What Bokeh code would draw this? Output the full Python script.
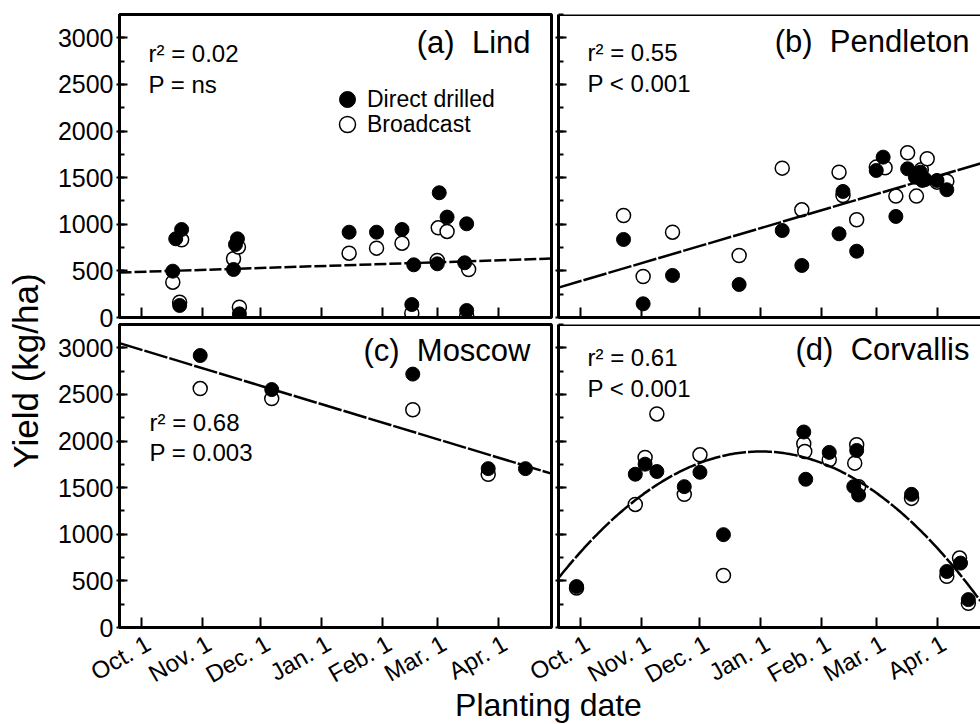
import math
import numpy as np
from bokeh.plotting import figure
from bokeh.models import (Range1d, FixedTicker, SingleIntervalTicker, Label,
                          Legend, LegendItem, Span, LinearAxis)
from bokeh.layouts import row, column
from bokeh.embed import file_html
from bokeh.resources import INLINE

FONT = "Liberation Sans"

# ---------------- axis definitions ----------------
month_days = [0, 31, 61, 92, 123, 151, 182]          # days after Oct. 1
month_names = ["Oct. 1", "Nov. 1", "Dec. 1", "Jan. 1", "Feb. 1", "Mar. 1", "Apr. 1"]

# ---------------- data: planting day (days after Oct. 1), yield (kg/ha) ----------------
lind_dd_day = [16, 17.5, 20.5, 19.5, 47, 48, 49, 50, 106, 120, 133, 139, 138, 152, 156, 151, 166, 165, 166]
lind_dd_yield = [497, 844, 944, 129, 515, 783, 844, 39, 915, 915, 944, 565, 139, 1338, 1077, 576, 1005, 587, 75]
lind_bc_day = [20.5, 16, 19.5, 47, 49.5, 50, 106, 120, 133, 138, 151.5, 156, 151, 167, 166]
lind_bc_yield = [833, 379, 164, 630, 755, 111, 690, 744, 797, 46, 962, 923, 612, 515, 15]

pend_dd_day = [22, 32, 47, 81, 103, 113, 132, 134, 141, 151, 154.5, 161, 167, 171, 173.5, 174.5, 176, 182, 187]
pend_dd_yield = [837, 147, 451, 354, 933, 558, 898, 1352, 711, 1577, 1720, 1084, 1595, 1505, 1559, 1470, 1480, 1470, 1370]
pend_bc_day = [22, 32, 47, 81, 103, 113, 132, 134, 141, 151, 155.5, 161, 167, 171.5, 174, 177, 182, 187]
pend_bc_yield = [1094, 440, 915, 665, 1602, 1155, 1559, 1309, 1048, 1613, 1606, 1302, 1767, 1302, 1585, 1703, 1452, 1462]

mosc_dd_day = [30, 66.5, 138.5, 177, 196]
mosc_dd_yield = [2917, 2552, 2718, 1704, 1704]
mosc_bc_day = [30, 66.5, 138.5, 177]
mosc_bc_yield = [2563, 2455, 2336, 1643]

corv_dd_day = [-2, 28, 33, 39, 53, 61, 73, 114, 115, 127, 141, 139.5, 142, 169, 187, 194, 198]
corv_dd_yield = [439, 1644, 1752, 1673, 1511, 1665, 996, 2097, 1590, 1878, 1899, 1511, 1421, 1428, 601, 691, 299]
corv_bc_day = [-2, 28, 33, 39, 53, 61, 73, 114, 114.5, 127, 141, 140, 142, 169, 187, 193.5, 198]
corv_bc_yield = [424, 1320, 1824, 2291, 1428, 1852, 558, 1971, 1888, 1798, 1960, 1763, 1511, 1385, 550, 745, 259]

# fitted regressions (intercept, slope) and quadratic (peak yield, peak day, curvature)
lind_fit = [489.6, 0.679]
pend_fit = [390.0, 6.18]
mosc_fit = [2979.0, -6.35]
corv_fit = [1888.0, 92.0, -0.1275]

site_titles = ["(a)\u00a0 Lind", "(b)\u00a0 Pendleton", "(c)\u00a0 Moscow", "(d)\u00a0 Corvallis"]
site_r2 = ["r\u00b2 = 0.02", "r\u00b2 = 0.55", "r\u00b2 = 0.68", "r\u00b2 = 0.61"]
site_p = ["P = ns", "P < 0.001", "P = 0.003", "P < 0.001"]

# ---------------- layout constants ----------------
X0 = -11.2
X_END_LEFT = 209.3
X_END_RIGHT = 204.2
Y_END = 3250
FRAME_W = 432
FRAME_W_R = 422
FRAME_H = 303
PXU = FRAME_H / Y_END          # pixels per kg/ha
PXD = FRAME_W / (X_END_LEFT - X0)   # pixels per day
YLAB_W = 50
LEFT_B = 69
TOP_B = 14
MID_B = 13          # room below the top panels for their "0" tick label
ROW_OVERLAP = 10    # the bottom row is pulled up over that room
MID_T = 4
BOT_B = 80
OVERHANG = 40
LABEL_SHIFT = 3.5   # tick-label anchor offset (days) to the right of each tick
MID = 0.347         # distance (in em) from the text middle to its baseline

TITLE_FS = 31
NOTE_FS = 24


def make_panel(x_end, width, height, b_left, b_right, b_top, b_bottom,
               ylabels, xlabels, outline):
    p = figure(width=width, height=height,
               x_range=Range1d(X0, x_end), y_range=Range1d(0, Y_END),
               output_backend="svg", toolbar_location=None,
               min_border_left=b_left, min_border_right=b_right,
               min_border_top=b_top, min_border_bottom=b_bottom)
    p.grid.visible = False
    p.background_fill_color = "white"
    p.border_fill_color = None
    if outline:
        p.outline_line_color = "black"
        p.outline_line_width = 3
    else:
        p.outline_line_color = None
        p.add_layout(Span(location=Y_END, dimension="width",
                          line_color="black", line_width=3))

    xa = p.xaxis[0]
    xa.ticker = FixedTicker(ticks=month_days)
    xa.axis_line_width = 3
    xa.axis_line_color = "black"
    xa.major_tick_in = 10
    xa.major_tick_out = 0
    xa.minor_tick_in = 0
    xa.minor_tick_out = 0
    xa.major_tick_line_width = 2
    xa.major_label_text_font_size = "0px"
    xa.major_label_text_color = None
    xa.major_label_standoff = 0

    if xlabels:
        shifted = [d + LABEL_SHIFT for d in month_days]
        lab_axis = LinearAxis(ticker=FixedTicker(ticks=shifted),
                              major_label_overrides=dict(zip(shifted, month_names)),
                              axis_line_color=None, major_tick_line_color=None,
                              minor_tick_line_color=None,
                              major_tick_in=0, major_tick_out=0,
                              minor_tick_in=0, minor_tick_out=0,
                              major_label_text_font=FONT,
                              major_label_text_font_size="24px",
                              major_label_text_color="black",
                              major_label_orientation=math.radians(30),
                              major_label_standoff=14)
        p.add_layout(lab_axis, "below")

    ya = p.yaxis[0]
    ya.ticker = SingleIntervalTicker(interval=500, num_minor_ticks=2)
    ya.axis_line_width = 3
    ya.axis_line_color = "black"
    ya.major_tick_in = 8
    ya.major_tick_out = 3
    ya.minor_tick_in = 5
    ya.minor_tick_out = 0
    ya.major_tick_line_width = 2
    ya.minor_tick_line_width = 2
    ya.major_label_text_font = FONT
    if ylabels:
        ya.major_label_text_font_size = "25px"
        ya.major_label_text_color = "black"
        ya.major_label_standoff = 3
    else:
        ya.major_label_text_font_size = "0px"
        ya.major_label_text_color = None
        ya.major_label_standoff = 0
    return p


def add_points(p, dd_x, dd_y, bc_x, bc_y):
    bc = p.scatter(bc_x, bc_y, marker="circle", size=14, fill_color="white",
                   line_color="black", line_width=1.5)
    dd = p.scatter(dd_x, dd_y, marker="circle", size=14, fill_color="black",
                   line_color="black", line_width=1)
    return dd, bc


def y_at(baseline_px_from_top, fs):
    """data y for a middle-anchored text whose baseline lies baseline_px below the frame top"""
    return Y_END - (baseline_px_from_top - MID * fs) / PXU


def add_texts(p, idx, title_right_px, title_base, note_left_px, r2_base, p_base):
    p.add_layout(Label(x=X0 + title_right_px / PXD, y=y_at(title_base, TITLE_FS),
                       text=site_titles[idx], text_font=FONT,
                       text_font_size=f"{TITLE_FS}px", text_align="right",
                       text_baseline="middle", text_color="black"))
    p.add_layout(Label(x=X0 + note_left_px / PXD, y=y_at(r2_base, NOTE_FS),
                       text=site_r2[idx], text_font=FONT,
                       text_font_size=f"{NOTE_FS}px", text_align="left",
                       text_baseline="middle", text_color="black"))
    p.add_layout(Label(x=X0 + note_left_px / PXD, y=y_at(p_base, NOTE_FS),
                       text=site_p[idx], text_font=FONT,
                       text_font_size=f"{NOTE_FS}px", text_align="left",
                       text_baseline="middle", text_color="black"))


def legend_for(renderer, text, loc):
    return Legend(items=[LegendItem(label=text, renderers=[renderer])],
                  location=loc, orientation="vertical",
                  border_line_color=None, background_fill_alpha=0,
                  padding=0, margin=0, spacing=0,
                  glyph_width=40, glyph_height=40, label_standoff=0,
                  label_text_font=FONT, label_text_font_size="23px",
                  label_text_color="black")


H_TOP = TOP_B + FRAME_H + MID_B
H_BOT = MID_T + FRAME_H + BOT_B
W_LEFT = LEFT_B + FRAME_W + 3
W_RIGHT = 4 + FRAME_W_R

# (a) Lind
pa = make_panel(X_END_LEFT, W_LEFT, H_TOP, LEFT_B, 3, TOP_B, MID_B, True, False, True)
dd_a, bc_a = add_points(pa, lind_dd_day, lind_dd_yield, lind_bc_day, lind_bc_yield)
xa_line = np.array([X0, X_END_LEFT])
pa.line(xa_line, lind_fit[0] + lind_fit[1] * xa_line, line_color="black",
        line_width=2.5, line_dash="12 3")
add_texts(pa, 0, 411, 39, 29, 47, 78)
pa.add_layout(legend_for(dd_a, "Direct drilled", (208, 198)))
pa.add_layout(legend_for(bc_a, "Broadcast", (208, 173)))

# (b) Pendleton
pb = make_panel(X_END_RIGHT, W_RIGHT, H_TOP, 4, 0, TOP_B, MID_B, False, False, False)
add_points(pb, pend_dd_day, pend_dd_yield, pend_bc_day, pend_bc_yield)
xb_line = np.array([X0, X_END_RIGHT])
pb.line(xb_line, pend_fit[0] + pend_fit[1] * xb_line, line_color="black",
        line_width=2.5, line_dash="24 2")
add_texts(pb, 1, 411, 38, 29, 46, 77)

# (c) Moscow
pc = make_panel(X_END_LEFT, W_LEFT, H_BOT, LEFT_B, 3, MID_T, BOT_B, True, True, True)
add_points(pc, mosc_dd_day, mosc_dd_yield, mosc_bc_day, mosc_bc_yield)
pc.line(xa_line, mosc_fit[0] + mosc_fit[1] * xa_line, line_color="black",
        line_width=2.5, line_dash="24 2")
add_texts(pc, 2, 411, 37, 30, 106, 136)

# (d) Corvallis
pd_ = make_panel(X_END_RIGHT, W_RIGHT + OVERHANG, H_BOT, 4 + OVERHANG, 0, MID_T, BOT_B,
                 False, True, False)
pd_.margin = (0, 0, 0, -OVERHANG)
add_points(pd_, corv_dd_day, corv_dd_yield, corv_bc_day, corv_bc_yield)
xd_curve = np.linspace(X0, X_END_RIGHT, 200)
pd_.line(xd_curve, corv_fit[0] + corv_fit[2] * (xd_curve - corv_fit[1]) ** 2,
         line_color="black", line_width=2.5, line_dash="24 2")
add_texts(pd_, 3, 411, 36, 29, 41, 72)

bottom_row = row(pc, pd_)
bottom_row.margin = (-ROW_OVERLAP, 0, 0, 0)

# y-axis title
H_ALL = H_TOP + H_BOT - ROW_OVERLAP
YL_FS = 35
ylab = figure(width=YLAB_W, height=H_ALL, x_range=Range1d(0, YLAB_W),
              y_range=Range1d(0, H_ALL), output_backend="svg",
              toolbar_location=None, x_axis_type=None, y_axis_type=None,
              min_border=0)
ylab.outline_line_color = None
ylab.border_fill_color = None
ylab.background_fill_color = None
ylab.add_layout(Label(x=37 - MID * YL_FS, y=H_ALL - 370.5, text="Yield (kg/ha)",
                      angle=math.pi / 2, text_font=FONT, text_font_size=f"{YL_FS}px",
                      text_align="center", text_baseline="middle", text_color="black"))

# x-axis title
XL_FS = 32
PAGE_H = 724
XL_W = YLAB_W + W_LEFT + W_RIGHT
XL_TOP = 680
XL_H = PAGE_H - XL_TOP
xlab = figure(width=XL_W, height=XL_H, x_range=Range1d(0, XL_W),
              y_range=Range1d(0, XL_H), output_backend="svg",
              toolbar_location=None, x_axis_type=None, y_axis_type=None,
              min_border=0)
xlab.outline_line_color = None
xlab.border_fill_color = None
xlab.background_fill_color = None
xlab.margin = (XL_TOP - H_ALL, 0, 0, 0)
xlab.add_layout(Label(x=548, y=PAGE_H - (716 - MID * XL_FS), text="Planting date",
                      text_font=FONT, text_font_size=f"{XL_FS}px",
                      text_align="center", text_baseline="middle", text_color="black"))

layout = column(row(ylab, column(row(pa, pb), bottom_row)), xlab)

open("out.html", "w").write(file_html(layout, INLINE))
